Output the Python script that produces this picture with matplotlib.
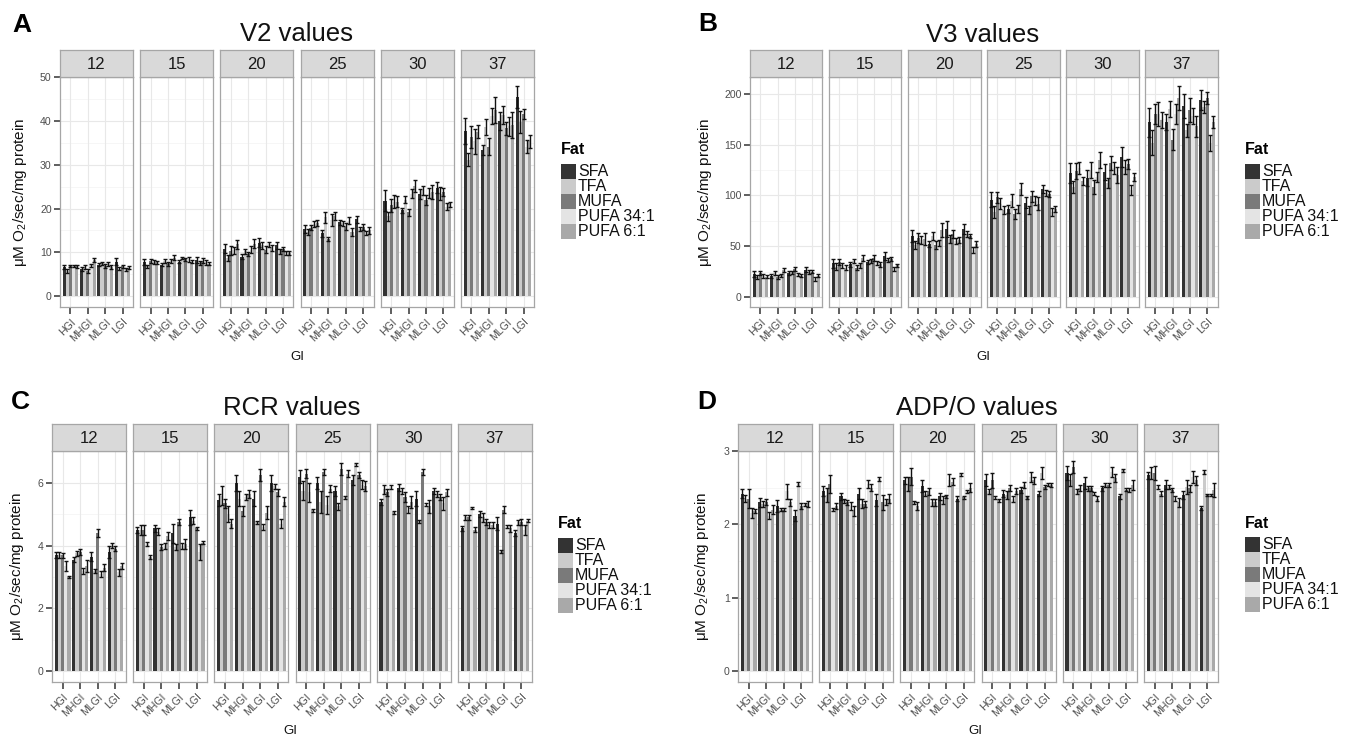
import numpy as np
import matplotlib
matplotlib.use('Agg')
import matplotlib.pyplot as plt
from matplotlib.patches import Rectangle

plt.rcParams['font.family'] = ['Liberation Sans', 'DejaVu Sans']
plt.rcParams['mathtext.fontset'] = 'custom'
plt.rcParams['mathtext.rm'] = 'Liberation Sans'
plt.rcParams['mathtext.default'] = 'regular'

# ---------------- data ----------------
TEMPS = ['12', '15', '20', '25', '30', '37']
GI = ['HGI', 'MHGI', 'MLGI', 'LGI']
FATS = ['SFA', 'TFA', 'MUFA', 'PUFA 34:1', 'PUFA 6:1']
FAT_COLORS = ['#333333', '#CBCBCB', '#7A7A7A', '#E4E4E4', '#A9A9A9']

# each row = one temperature; 20 values = GI (HGI, MHGI, MLGI, LGI) x Fat (SFA, TFA, MUFA, PUFA 34:1, PUFA 6:1)
V2_MEAN = [
    [6.6, 5.7, 6.9, 6.9, 6.8, 6.2, 6.6, 5.7, 7.0, 8.2, 7.2, 7.5, 6.9, 7.3, 6.6, 7.9, 6.3, 6.8, 6.1, 6.5],
    [7.8, 6.8, 8.0, 7.8, 7.7, 7.2, 8.0, 7.4, 8.0, 8.8, 7.9, 8.7, 8.4, 8.4, 7.9, 8.2, 7.5, 8.1, 7.7, 7.4],
    [10.8, 8.8, 10.4, 10.5, 11.8, 9.0, 10.2, 9.6, 10.6, 12.0, 12.2, 11.6, 10.6, 11.8, 11.0, 11.6, 10.2, 10.8, 9.8, 9.8],
    [15.4, 14.6, 15.6, 16.4, 16.7, 14.4, 18.0, 13.0, 17.4, 18.4, 16.9, 16.6, 15.8, 17.2, 14.6, 17.6, 15.4, 15.8, 14.4, 15.0],
    [21.8, 18.2, 20.8, 21.6, 21.6, 19.6, 22.0, 19.2, 23.4, 25.2, 23.4, 24.2, 22.0, 23.6, 23.8, 24.8, 23.4, 23.8, 20.4, 21.0],
    [37.8, 31.2, 36.4, 35.4, 37.6, 33.4, 38.6, 34.2, 41.2, 42.6, 40.0, 41.4, 38.4, 38.8, 39.2, 45.6, 39.8, 41.6, 34.2, 35.4],
]
V2_SE = [
    [0.5, 0.4, 0.3, 0.3, 0.3, 0.4, 0.4, 0.4, 0.4, 0.5, 0.4, 0.4, 0.4, 0.4, 0.4, 0.9, 0.4, 0.4, 0.3, 0.3],
    [0.7, 0.4, 0.5, 0.4, 0.4, 0.3, 0.4, 0.5, 0.4, 0.5, 0.4, 0.3, 0.4, 0.5, 0.4, 0.7, 0.5, 0.5, 0.6, 0.4],
    [1.0, 0.7, 1.0, 0.8, 1.0, 0.6, 0.6, 0.5, 0.8, 1.0, 1.0, 0.8, 0.8, 0.6, 0.7, 0.8, 0.6, 0.5, 0.5, 0.5],
    [0.9, 0.7, 0.6, 0.7, 0.6, 0.8, 1.2, 0.5, 1.3, 0.9, 0.6, 0.6, 0.8, 0.8, 0.9, 0.8, 0.5, 0.6, 0.4, 0.8],
    [2.4, 1.0, 1.5, 1.5, 1.2, 0.6, 0.8, 0.8, 1.0, 1.4, 1.2, 1.0, 1.2, 1.2, 1.6, 1.2, 1.5, 1.0, 0.8, 0.6],
    [3.0, 1.5, 2.5, 2.8, 1.5, 1.2, 1.8, 2.0, 1.8, 3.0, 2.0, 2.0, 1.5, 2.2, 3.0, 2.5, 2.5, 1.2, 1.5, 1.5],
]

V3_MEAN = [
    [23, 20, 24, 21, 20, 21, 24, 20, 21, 27, 24, 24, 28, 22, 21, 27, 25, 25, 18, 21],
    [33, 30, 34, 31, 29, 32, 35, 29, 31, 38, 34, 35, 38, 33, 32, 40, 36, 37, 28, 31],
    [60, 51, 58, 56, 57, 52, 60, 51, 53, 66, 67, 57, 62, 55, 56, 67, 62, 60, 46, 52],
    [96, 84, 98, 92, 86, 87, 95, 82, 87, 106, 93, 86, 99, 95, 92, 106, 102, 101, 84, 87],
    [122, 108, 124, 127, 114, 117, 125, 108, 118, 135, 123, 112, 132, 127, 120, 138, 128, 131, 105, 118],
    [172, 152, 180, 180, 174, 172, 185, 155, 180, 196, 188, 164, 184, 178, 168, 194, 187, 196, 152, 172],
]
V3_SE = [
    [3, 2, 2, 2, 1.5, 2, 2, 2, 1.5, 2, 2, 1.5, 2, 1.5, 1.5, 2.5, 2, 1.5, 2, 1.5],
    [4, 3, 3, 2, 2, 2, 2, 2, 2, 3, 2, 2, 3, 2, 2, 4, 2, 2, 2, 1.5],
    [6, 4, 5, 4, 6, 3, 4, 4, 3, 7, 8, 4, 4, 3, 3, 5, 3, 2, 3, 3],
    [7, 6, 5, 5, 4, 4, 6, 5, 4, 6, 5, 4, 5, 4, 6, 4, 3, 3, 4, 3],
    [10, 6, 8, 6, 4, 8, 8, 7, 5, 8, 8, 5, 7, 6, 8, 10, 7, 5, 5, 4],
    [14, 12, 10, 12, 8, 8, 8, 10, 10, 12, 12, 6, 12, 8, 10, 10, 6, 6, 8, 6],
]

RCR_MEAN = [
    [3.7, 3.7, 3.7, 3.35, 3.0, 3.55, 3.75, 3.8, 3.2, 3.35, 3.65, 3.2, 4.4, 3.1, 3.3, 3.8, 4.0, 3.9, 3.15, 3.35],
    [4.5, 4.5, 4.5, 4.05, 3.65, 4.55, 4.45, 3.95, 4.0, 4.3, 4.4, 3.95, 4.75, 4.0, 4.05, 4.9, 4.8, 4.55, 3.8, 4.1],
    [5.45, 5.6, 5.35, 5.0, 4.7, 6.0, 5.5, 5.1, 5.55, 5.65, 5.5, 4.75, 6.25, 4.6, 5.05, 6.0, 5.9, 5.7, 4.7, 5.4],
    [6.2, 5.75, 6.3, 5.7, 5.13, 6.0, 5.4, 6.35, 5.3, 5.82, 5.75, 5.25, 6.45, 5.55, 6.3, 6.1, 6.6, 6.25, 5.95, 5.9],
    [5.4, 5.8, 5.7, 5.87, 5.07, 5.85, 5.75, 5.55, 5.15, 5.4, 5.5, 4.78, 6.35, 5.3, 5.25, 5.75, 5.65, 5.55, 5.35, 5.7],
    [4.55, 4.9, 4.9, 5.2, 4.5, 5.0, 4.9, 4.75, 4.65, 4.65, 4.7, 3.8, 5.15, 4.6, 4.55, 4.4, 4.75, 4.75, 4.5, 4.8],
]
RCR_SE = [
    [0.1, 0.1, 0.08, 0.15, 0.04, 0.08, 0.08, 0.1, 0.1, 0.2, 0.15, 0.06, 0.12, 0.1, 0.1, 0.2, 0.07, 0.08, 0.12, 0.1],
    [0.1, 0.15, 0.15, 0.06, 0.06, 0.1, 0.1, 0.1, 0.1, 0.12, 0.3, 0.1, 0.1, 0.1, 0.15, 0.25, 0.1, 0.06, 0.25, 0.05],
    [0.2, 0.3, 0.15, 0.25, 0.15, 0.25, 0.25, 0.15, 0.1, 0.12, 0.25, 0.05, 0.2, 0.1, 0.2, 0.25, 0.08, 0.1, 0.15, 0.15],
    [0.2, 0.3, 0.15, 0.3, 0.05, 0.2, 0.35, 0.1, 0.3, 0.1, 0.15, 0.1, 0.2, 0.05, 0.1, 0.15, 0.05, 0.1, 0.15, 0.15],
    [0.1, 0.15, 0.1, 0.05, 0.05, 0.12, 0.1, 0.15, 0.1, 0.2, 0.25, 0.05, 0.1, 0.05, 0.2, 0.1, 0.1, 0.1, 0.2, 0.1],
    [0.08, 0.08, 0.08, 0.04, 0.08, 0.1, 0.15, 0.1, 0.1, 0.1, 0.2, 0.05, 0.1, 0.05, 0.1, 0.1, 0.08, 0.1, 0.15, 0.05],
]

ADPO_MEAN = [
    [2.42, 2.35, 2.35, 2.15, 2.18, 2.3, 2.28, 2.3, 2.12, 2.2, 2.25, 2.2, 2.2, 2.45, 2.3, 2.12, 2.55, 2.25, 2.27, 2.28],
    [2.45, 2.4, 2.55, 2.2, 2.25, 2.38, 2.32, 2.3, 2.25, 2.18, 2.42, 2.28, 2.28, 2.55, 2.5, 2.33, 2.62, 2.3, 2.3, 2.35],
    [2.6, 2.55, 2.65, 2.3, 2.25, 2.52, 2.42, 2.45, 2.3, 2.3, 2.38, 2.33, 2.38, 2.6, 2.58, 2.35, 2.68, 2.37, 2.45, 2.5],
    [2.6, 2.45, 2.6, 2.36, 2.33, 2.42, 2.4, 2.5, 2.35, 2.45, 2.47, 2.54, 2.37, 2.65, 2.6, 2.42, 2.7, 2.51, 2.54, 2.54],
    [2.7, 2.6, 2.78, 2.45, 2.49, 2.56, 2.49, 2.49, 2.42, 2.35, 2.49, 2.54, 2.54, 2.71, 2.63, 2.38, 2.74, 2.47, 2.47, 2.54],
    [2.67, 2.7, 2.7, 2.51, 2.42, 2.54, 2.51, 2.47, 2.35, 2.3, 2.4, 2.51, 2.49, 2.65, 2.6, 2.22, 2.71, 2.4, 2.4, 2.47],
]
ADPO_SE = [
    [0.06, 0.05, 0.13, 0.07, 0.03, 0.06, 0.04, 0.04, 0.05, 0.06, 0.08, 0.02, 0.02, 0.1, 0.05, 0.08, 0.03, 0.04, 0.02, 0.04],
    [0.07, 0.1, 0.12, 0.02, 0.04, 0.05, 0.03, 0.03, 0.05, 0.07, 0.08, 0.06, 0.04, 0.06, 0.05, 0.08, 0.03, 0.1, 0.04, 0.06],
    [0.05, 0.1, 0.12, 0.02, 0.06, 0.08, 0.04, 0.05, 0.05, 0.05, 0.05, 0.05, 0.02, 0.08, 0.05, 0.03, 0.02, 0.02, 0.02, 0.06],
    [0.08, 0.03, 0.1, 0.02, 0.02, 0.05, 0.05, 0.04, 0.04, 0.04, 0.04, 0.04, 0.02, 0.07, 0.05, 0.03, 0.08, 0.03, 0.02, 0.03],
    [0.1, 0.08, 0.08, 0.03, 0.04, 0.08, 0.03, 0.03, 0.02, 0.03, 0.03, 0.03, 0.03, 0.07, 0.05, 0.04, 0.02, 0.02, 0.03, 0.07],
    [0.05, 0.08, 0.1, 0.03, 0.04, 0.06, 0.03, 0.03, 0.03, 0.06, 0.06, 0.1, 0.05, 0.08, 0.06, 0.03, 0.03, 0.02, 0.02, 0.1],
]

# ---------------- layout ----------------
W, H = 1348, 740
fig = plt.figure(figsize=(W / 100, H / 100), dpi=100)
fig.patch.set_facecolor('white')


def box(x0, y0, x1, y1):
    return [x0 / W, 1 - y1 / H, (x1 - x0) / W, (y1 - y0) / H]


YLABEL = u'\u03bcM O$_2$/sec/mg protein'


def draw_panel(means, ses, yticks, ylim, x0, step, fw, ptop, pbot, strip_h):
    n_g, n_f = len(GI), len(FATS)
    bw = 0.9 / n_f
    for t, temp in enumerate(TEMPS):
        xl = x0 + step * t
        ax = fig.add_axes(box(xl, ptop, xl + fw, pbot))
        m = np.array(means[t], dtype=float).reshape(n_g, n_f)
        s = np.array(ses[t], dtype=float).reshape(n_g, n_f)
        # grid
        minor = [(yticks[i] + yticks[i + 1]) / 2 for i in range(len(yticks) - 1)]
        for yv in minor:
            ax.axhline(yv, color='#F5F5F5', lw=0.6, zorder=0)
        for yv in yticks:
            ax.axhline(yv, color='#E8E8E8', lw=0.8, zorder=0)
        for g in range(n_g):
            ax.axvline(g + 1, color='#E8E8E8', lw=0.8, zorder=0)
        for f in range(n_f):
            xs = np.arange(1, n_g + 1) - 0.45 + bw / 2 + bw * f
            ax.bar(xs, m[:, f], width=bw, color=FAT_COLORS[f], edgecolor='none', zorder=2)
            ax.errorbar(xs, m[:, f], yerr=s[:, f], fmt='none', ecolor='#111111',
                        elinewidth=1.0, capsize=1.5, capthick=1.0, zorder=3)
        ax.set_xlim(0.4, n_g + 0.6)
        ax.set_ylim(*ylim)
        ax.set_xticks(np.arange(1, n_g + 1))
        ax.set_xticklabels(GI, rotation=45, ha='right', va='top', rotation_mode='anchor',
                           fontsize=7.6, color='#4D4D4D')
        ax.tick_params(axis='x', length=5, width=1.1, color='#333333', pad=2)
        if t == 0:
            ax.set_yticks(yticks)
            ax.set_yticklabels([str(v) for v in yticks], fontsize=7.6, color='#4D4D4D')
            ax.tick_params(axis='y', length=4, width=1.1, color='#333333', pad=2)
        else:
            ax.set_yticks([])
        for sp in ax.spines.values():
            sp.set_color('#A6A6A6')
            sp.set_linewidth(0.9)
        ax.set_facecolor('white')
        # strip
        sax = fig.add_axes(box(xl, ptop - strip_h, xl + fw, ptop))
        sax.set_facecolor('#D9D9D9')
        sax.set_xticks([])
        sax.set_yticks([])
        for sp in sax.spines.values():
            sp.set_color('#A6A6A6')
            sp.set_linewidth(0.9)
        sax.text(0.5, 0.45, temp, ha='center', va='center', fontsize=12,
                 color='#1A1A1A', transform=sax.transAxes)


draw_panel(V2_MEAN, V2_SE, [0, 10, 20, 30, 40, 50], (-2.5, 50.1), 60, 80.2, 73, 77, 307, 27)
draw_panel(V3_MEAN, V3_SE, [0, 50, 100, 150, 200], (-9.9, 216.7), 750, 79.0, 72.5, 77, 307, 27)
draw_panel(RCR_MEAN, RCR_SE, [0, 2, 4, 6], (-0.35, 7.02), 52, 81.2, 74, 451, 682, 27)
draw_panel(ADPO_MEAN, ADPO_SE, [0, 1, 2, 3], (-0.15, 3.0), 738, 81.2, 74, 451, 682, 27)

# ---------------- overlay texts & legends (pixel coordinates) ----------------
ov = fig.add_axes([0, 0, 1, 1], zorder=10)
ov.set_xlim(0, W)
ov.set_ylim(H, 0)
ov.axis('off')
ov.patch.set_alpha(0)

titles = [('A', 'V2 values', (22, 25), (297, 34), 20, 192, (297, 357), (561, 150), 164),
          ('B', 'V3 values', (708, 24), (983, 35), 705, 192, (983, 357), (1245, 150), 164),
          ('C', 'RCR values', (20, 402), (292, 408), 17, 566, (290, 731), (558, 523), 538),
          ('D', 'ADP/O values', (707, 402), (977, 408), 702, 566, (975, 731), (1245, 523), 537)]

for letter, title, lpos, tpos, ylx, yly, gipos, legpos, keytop in titles:
    ov.text(*lpos, letter, fontsize=19, fontweight='bold', ha='center', va='center')
    ov.text(*tpos, title, fontsize=18.5, ha='center', va='center', color='#111111')
    ov.text(ylx, yly, YLABEL, fontsize=11, rotation=90, ha='center', va='center', color='#111111')
    ov.text(*gipos, 'GI', fontsize=9.5, ha='center', va='center', color='#111111')
    lx, ly = legpos
    ov.text(lx, ly, 'Fat', fontsize=11.5, fontweight='bold', ha='left', va='center')
    for i, (fat, col) in enumerate(zip(FATS, FAT_COLORS)):
        ov.add_patch(Rectangle((lx, keytop + 15 * i), 15, 15, facecolor=col, edgecolor='none'))
        ov.text(lx + 17, keytop + 15 * i + 7.5, fat, fontsize=11.5, ha='left', va='center',
                color='#111111')

fig.savefig('out.png', dpi=100, facecolor='white')
